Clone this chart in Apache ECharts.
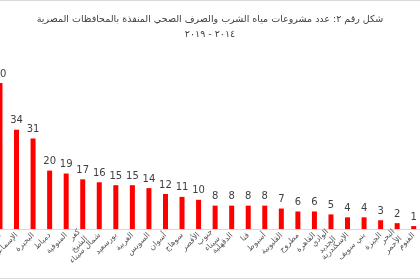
<!DOCTYPE html>
<html><head><meta charset="utf-8">
<script src="https://cdn.jsdelivr.net/npm/echarts@6/dist/echarts.min.js"></script>
<style>html,body{margin:0;padding:0;background:#fff}#c{width:420px;height:280px}</style>
</head><body><div id="c"></div>
<script>
const categories = ["الشرقية","الإسماعيلية","البحيرة","دمياط","المنوفية","كفر الشيخ","شمال سيناء","بورسعيد","الغربية","السويس","أسوان","سوهاج","الأقصر","جنوب سيناء","الدقهلية","قنا","أسيوط","القليوبية","مطروح","القاهرة","الوادي الجديد","الإسكندرية","بني سويف","الجيزة","البحر الأحمر","الفيوم"];
const values = [50,34,31,20,19,17,16,15,15,14,12,11,10,8,8,8,8,7,6,6,5,4,4,3,2,1];
const wrappedLabels = ["كفر الشيخ","جنوب سيناء","الوادي الجديد","البحر الأحمر"];
const titleLine1 = "شكل رقم ٢: عدد مشروعات مياه الشرب والصرف الصحي المنفذة بالمحافظات المصرية";
const titleLine2 = "٢٠١٤ - ٢٠١٩";

const chart = echarts.init(document.getElementById('c'), null, {renderer:'canvas'});
chart.setOption({
  animation:false,
  textStyle:{fontFamily:'DejaVu Sans, sans-serif'},
  title:{text:titleLine1+"\n"+titleLine2,left:'center',top:7,
    textStyle:{fontSize:9.5,fontWeight:'normal',color:'#404040',lineHeight:15,fontFamily:'DejaVu Sans, sans-serif'}},
  grid:{left:-8.3,right:-2,top:83,bottom:51,containLabel:false,outerBoundsMode:'none'},
  xAxis:{type:'category',data:categories,
    axisLine:{lineStyle:{color:'#d9d9d9'}},axisTick:{show:false},
    axisLabel:{rotate:45,interval:0,fontSize:8,lineHeight:10,color:'#595959',margin:5,fontFamily:'DejaVu Sans, sans-serif',
      formatter:v=>wrappedLabels.includes(v)?v.replace(' ','\n'):v}},
  yAxis:{type:'value',min:0,max:50,show:false,splitLine:{show:false}},
  series:[{type:'bar',data:values,barWidth:5,itemStyle:{color:'#ff0000'},
    label:{show:true,position:'top',distance:4,fontSize:10,fontWeight:'normal',color:'#404040',fontFamily:'DejaVu Sans, sans-serif'}}],
  graphic:[
    {type:'line',shape:{x1:0,y1:0.5,x2:420,y2:0.5},style:{stroke:'#d9d9d9',lineWidth:1}},
    {type:'line',shape:{x1:0,y1:278.5,x2:420,y2:278.5},style:{stroke:'#d9d9d9',lineWidth:1}}
  ]
});
</script></body></html>
